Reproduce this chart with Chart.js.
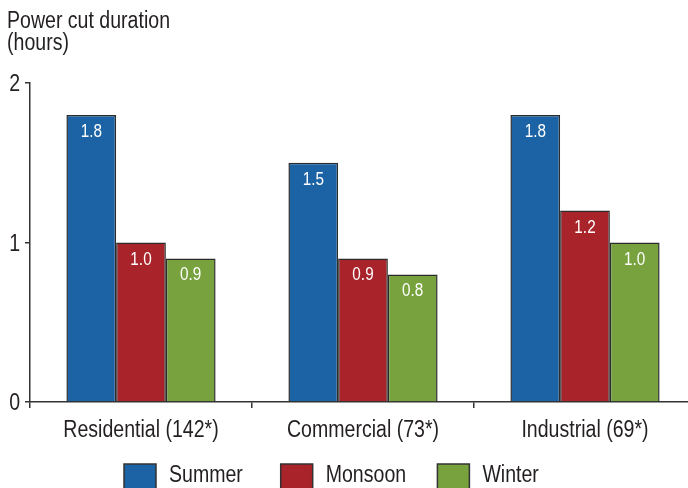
<!DOCTYPE html>
<html>
<head>
<meta charset="utf-8">
<script src="https://cdn.jsdelivr.net/npm/chart.js@4/dist/chart.umd.min.js"></script>
<style>
  html, body { margin: 0; padding: 0; background: #fff; overflow: hidden; }
  #wrap { width: 700px; height: 488px; }
</style>
</head>
<body>
<div id="wrap"><canvas id="c" width="700" height="488"></canvas></div>
<script>
// Power cut duration by consumer category and season (hours)
const categories = ['Residential (142*)', 'Commercial (73*)', 'Industrial (69*)'];
const seriesNames = ['Summer', 'Monsoon', 'Winter'];
const summer = [1.8, 1.5, 1.8];
const monsoon = [1.0, 0.9, 1.2];
const winter = [0.9, 0.8, 1.0];
const yTicks = [0, 1, 2];

const colors = ['#1b63a5', '#a8232a', '#77a23e'];
const FONT = '"Liberation Sans", Arial, sans-serif';
const INK = '#231f20';
const NARROW = 0.85; // horizontal squeeze for a condensed sans look

// Draw text horizontally condensed; returns the drawn width.
function narrowText(ctx, text, x, y, size, align, color) {
  ctx.save();
  ctx.font = size + 'px ' + FONT;
  ctx.fillStyle = color;
  ctx.textAlign = align;
  ctx.textBaseline = 'alphabetic';
  ctx.translate(x, y);
  ctx.scale(NARROW, 1);
  ctx.fillText(text, 0, 0);
  const w = ctx.measureText(text).width * NARROW;
  ctx.restore();
  return w;
}

const titlePlugin = {
  id: 'axisTitle',
  afterDraw(chart) {
    const ctx = chart.ctx;
    narrowText(ctx, 'Power cut duration', 7, 28, 23, 'left', INK);
    narrowText(ctx, '(hours)', 7, 50, 23, 'left', INK);
  }
};

// Category and value tick labels placed from the chart's own scales
const axisLabels = {
  id: 'axisLabels',
  afterDraw(chart) {
    const ctx = chart.ctx;
    const xs = chart.scales.x, ys = chart.scales.y;
    chart.data.labels.forEach((lab, i) => {
      narrowText(ctx, lab, xs.getPixelForTick(i), 437, 23, 'center', INK);
    });
    yTicks.forEach(v => {
      narrowText(ctx, String(v), 20, ys.getPixelForValue(v) + 8, 23, 'right', INK);
    });
  }
};

const valueLabels = {
  id: 'valueLabels',
  afterDatasetsDraw(chart) {
    const ctx = chart.ctx;
    chart.data.datasets.forEach((ds, i) => {
      chart.getDatasetMeta(i).data.forEach((bar, j) => {
        narrowText(ctx, ds.data[j].toFixed(1), bar.x, bar.y + 22, 18, 'center', '#ffffff');
      });
    });
  }
};

// Legend row: swatch + series name, evenly pitched
const boxLegend = {
  id: 'boxLegend',
  afterDraw(chart) {
    const ctx = chart.ctx;
    chart.data.datasets.forEach((ds, i) => {
      const x = 124 + i * 156.7;
      ctx.save();
      ctx.fillStyle = ds.backgroundColor;
      ctx.fillRect(x, 464, 32, 28);
      ctx.strokeStyle = '#333';
      ctx.lineWidth = 1.5;
      ctx.strokeRect(x, 464, 32, 28);
      ctx.restore();
      narrowText(ctx, ds.label, x + 45, 482, 23, 'left', INK);
    });
  }
};

new Chart(document.getElementById('c'), {
  type: 'bar',
  data: {
    labels: categories,
    datasets: [
      { label: seriesNames[0], data: summer, backgroundColor: colors[0] },
      { label: seriesNames[1], data: monsoon, backgroundColor: colors[1] },
      { label: seriesNames[2], data: winter, backgroundColor: colors[2] }
    ].map(d => Object.assign(d, {
      borderColor: '#2b2b2b',
      borderWidth: 1.5,
      categoryPercentage: 0.672,
      barPercentage: 1.0
    }))
  },
  options: {
    responsive: false,
    animation: false,
    devicePixelRatio: 1,
    layout: { padding: { top: 83, left: 0, right: 4, bottom: 0 } },
    plugins: {
      legend: { display: false },
      tooltip: { enabled: false },
      title: { display: false }
    },
    scales: {
      x: {
        afterFit(scale) { scale.height = 86; },
        grid: {
          offset: true,
          drawOnChartArea: false,
          drawTicks: true,
          tickLength: 6,
          color: '#333',
          lineWidth: 1.5
        },
        border: { display: true, color: '#333', width: 1.5 },
        ticks: { display: false }
      },
      y: {
        min: 0,
        max: 2,
        afterFit(scale) { scale.width = 30; },
        afterBuildTicks(scale) { scale.ticks = yTicks.map(v => ({ value: v })); },
        grid: {
          drawOnChartArea: false,
          drawTicks: true,
          tickLength: 5,
          color: '#333',
          lineWidth: 1.5
        },
        border: { display: true, color: '#333', width: 1.5 },
        ticks: { display: false }
      }
    }
  },
  plugins: [titlePlugin, axisLabels, valueLabels, boxLegend]
});
</script>
</body>
</html>
